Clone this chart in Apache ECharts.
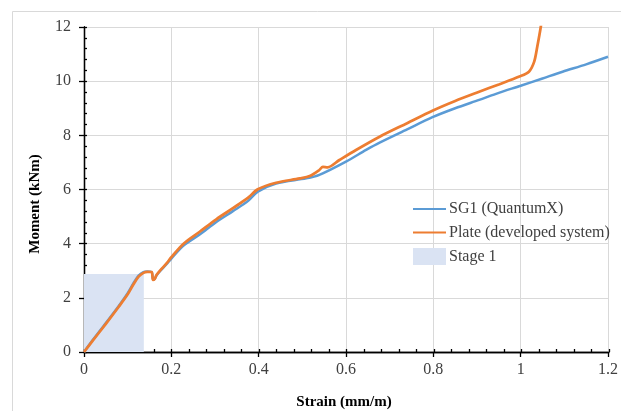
<!DOCTYPE html>
<html>
<head>
<meta charset="utf-8">
<script src="https://cdn.jsdelivr.net/npm/echarts@6/dist/echarts.min.js"></script>
<style>
html,body{margin:0;padding:0;background:#fff;}
#chart{width:621px;height:411px;}
</style>
</head>
<body>
<div id="chart"></div>
<script>
// ---- data ----
const strainSG1 = [0, 0.02, 0.05, 0.08, 0.10, 0.113, 0.125, 0.136, 0.145, 0.155, 0.158, 0.162, 0.166, 0.175, 0.189, 0.2, 0.228, 0.265, 0.303, 0.341, 0.376, 0.398, 0.44, 0.509, 0.539, 0.6, 0.646, 0.677, 0.74, 0.798, 0.85, 0.905, 0.95, 1.0, 1.05, 1.096, 1.15, 1.2];
const momentSG1 = [0, 0.44, 1.07, 1.71, 2.17, 2.53, 2.82, 2.95, 2.97, 2.95, 2.68, 2.7, 2.82, 3.0, 3.24, 3.45, 3.93, 4.34, 4.8, 5.2, 5.58, 5.92, 6.22, 6.41, 6.54, 7.03, 7.46, 7.73, 8.22, 8.67, 9.0, 9.31, 9.57, 9.83, 10.1, 10.35, 10.62, 10.9];
const strainPlate = [0, 0.02, 0.05, 0.08, 0.10, 0.113, 0.125, 0.136, 0.145, 0.155, 0.158, 0.162, 0.166, 0.175, 0.189, 0.2, 0.228, 0.265, 0.303, 0.341, 0.376, 0.398, 0.44, 0.494, 0.517, 0.539, 0.547, 0.558, 0.585, 0.623, 0.677, 0.74, 0.798, 0.85, 0.905, 0.95, 0.997, 1.019, 1.031, 1.038, 1.046, 1.05];
const momentPlate = [0, 0.42, 1.04, 1.68, 2.13, 2.49, 2.78, 2.92, 2.96, 2.95, 2.66, 2.7, 2.84, 3.02, 3.27, 3.5, 4.0, 4.44, 4.9, 5.31, 5.7, 6.01, 6.25, 6.41, 6.5, 6.72, 6.84, 6.82, 7.09, 7.46, 7.95, 8.45, 8.91, 9.27, 9.61, 9.88, 10.17, 10.35, 10.72, 11.27, 12.0, 12.5];
const stage1Strain = [0, 0.137];
const stage1Moment = [2.88, 2.88];
const xTicks = [0, 0.2, 0.4, 0.6, 0.8, 1, 1.2];
const yTicks = [0, 2, 4, 6, 8, 10, 12];

const serif = 'Liberation Serif';
const txt = '#404040';
const zip = (a, b) => a.map((v, i) => [v, b[i]]);

const gridBox = {left: 84, right: 12, top: 27, bottom: 59};
const xRange = {min: xTicks[0], max: xTicks[xTicks.length - 1], interval: 0.2};
const yRange = {min: yTicks[0], max: yTicks[yTicks.length - 1], interval: 2};

const chart = echarts.init(document.getElementById('chart'), null, {renderer: 'canvas'});
chart.setOption({
  animation: false,
  backgroundColor: '#fff',
  textStyle: {fontFamily: serif},
  grid: [Object.assign({}, gridBox), Object.assign({}, gridBox)],
  xAxis: [
    Object.assign({
      type: 'value', gridIndex: 0, position: 'bottom',
      axisLine: {show: true, onZero: false, lineStyle: {color: '#000', width: 1.3}},
      axisTick: {show: true, inside: false, length: 5, lineStyle: {color: '#000', width: 1.3}},
      axisLabel: {color: txt, fontFamily: serif, fontSize: 16, margin: 10,
        formatter: v => String(+v.toFixed(1))},
      splitLine: {show: true, lineStyle: {color: '#d9d9d9', width: 1}}
    }, xRange),
    Object.assign({
      type: 'value', gridIndex: 1, position: 'bottom',
      axisLine: {show: true, onZero: false, lineStyle: {color: '#000', width: 1.3}},
      axisTick: {show: true, inside: true, length: 3, lineStyle: {color: '#000', width: 1.3}},
      minorTick: {show: true, splitNumber: 5, length: 3, lineStyle: {color: '#000', width: 1.3}},
      axisLabel: {show: false},
      splitLine: {show: false}
    }, xRange)
  ],
  yAxis: [
    Object.assign({
      type: 'value', gridIndex: 0, position: 'left',
      axisLine: {show: true, onZero: false, lineStyle: {color: '#000', width: 1.3}},
      axisTick: {show: true, inside: false, length: 5, lineStyle: {color: '#000', width: 1.3}},
      axisLabel: {color: txt, fontFamily: serif, fontSize: 16, margin: 13},
      splitLine: {show: true, lineStyle: {color: '#d9d9d9', width: 1}}
    }, yRange),
    Object.assign({
      type: 'value', gridIndex: 1, position: 'left',
      axisLine: {show: true, onZero: false, lineStyle: {color: '#000', width: 1.3}},
      axisTick: {show: true, inside: true, length: 3, lineStyle: {color: '#000', width: 1.3}},
      minorTick: {show: true, splitNumber: 5, length: 3, lineStyle: {color: '#000', width: 1.3}},
      axisLabel: {show: false},
      splitLine: {show: false}
    }, yRange)
  ],
  legend: {
    left: 407, top: 196, orient: 'vertical',
    itemWidth: 33, itemHeight: 17, itemGap: 7.5,
    textStyle: {color: txt, fontFamily: serif, fontSize: 16, padding: [0, 0, 0, -2]},
    data: [
      {name: 'SG1 (QuantumX)', itemStyle: {opacity: 0}},
      {name: 'Plate (developed system)', itemStyle: {opacity: 0}},
      {name: 'Stage 1', icon: 'rect'}
    ]
  },
  series: [
    {
      name: 'Stage 1', type: 'line', xAxisIndex: 0, yAxisIndex: 0,
      data: zip(stage1Strain, stage1Moment), symbol: 'none',
      lineStyle: {width: 0, opacity: 0},
      itemStyle: {color: '#dae3f3'},
      areaStyle: {color: '#dae3f3', opacity: 1},
      z: 1
    },
    {
      name: 'SG1 (QuantumX)', type: 'line', xAxisIndex: 0, yAxisIndex: 0,
      data: zip(strainSG1, momentSG1), symbol: 'none', smooth: 0.3,
      lineStyle: {color: '#5b9bd5', width: 2.5},
      itemStyle: {color: '#5b9bd5'}, z: 3
    },
    {
      name: 'Plate (developed system)', type: 'line', xAxisIndex: 0, yAxisIndex: 0,
      data: zip(strainPlate, momentPlate), symbol: 'none', smooth: 0.3,
      lineStyle: {color: '#ed7d31', width: 2.75},
      itemStyle: {color: '#ed7d31'}, z: 4
    }
  ],
  graphic: [
    {type: 'rect', left: 10, top: 9, shape: {width: 700, height: 500},
      style: {fill: 'none', stroke: '#d9d9d9', lineWidth: 1}, silent: true, z: -10},
    {type: 'text', x: 344, y: 402, style: {text: 'Strain (mm/m)', fill: '#000',
      font: 'bold 15px "Liberation Serif"', textAlign: 'center', textVerticalAlign: 'middle'}},
    {type: 'text', x: 35, y: 204, rotation: Math.PI / 2, style: {text: 'Moment (kNm)', fill: '#000',
      font: 'bold 15px "Liberation Serif"', textAlign: 'center', textVerticalAlign: 'middle'}}
  ]
});
</script>
</body>
</html>
